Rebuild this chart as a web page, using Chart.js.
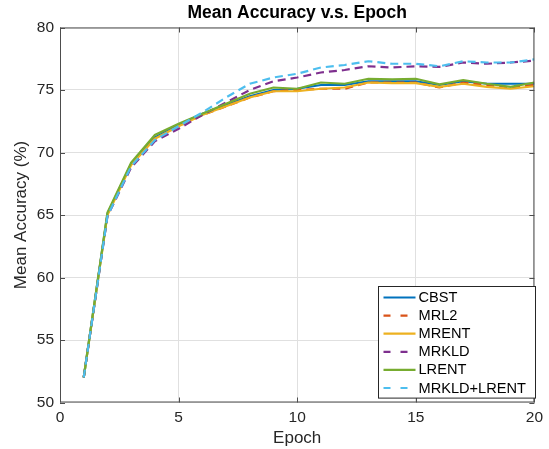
<!DOCTYPE html>
<html>
<head>
<meta charset="utf-8">
<script src="https://cdn.jsdelivr.net/npm/chart.js@4.4.0/dist/chart.umd.min.js"></script>
<style>
  html, body { margin: 0; padding: 0; background: #fff; }
</style>
</head>
<body>
<canvas id="accChart" width="549" height="449"></canvas>
<script>
const epochs = [1, 2, 3, 4, 5, 6, 7, 8, 9, 10, 11, 12, 13, 14, 15, 16, 17, 18, 19, 20];

const cbst       = [52.0, 65.1, 69.1, 71.2, 72.2, 73.1, 73.8, 74.5, 75.0, 75.1, 75.4, 75.4, 75.7, 75.7, 75.7, 75.4, 75.7, 75.5, 75.5, 75.5];
const mrl2       = [52.0, 65.0, 69.0, 71.1, 72.1, 73.0, 73.7, 74.4, 74.9, 75.0, 75.1, 75.1, 75.6, 75.6, 75.6, 75.2, 75.6, 75.4, 75.2, 75.4];
const mrent      = [52.0, 65.0, 69.0, 71.1, 72.1, 73.0, 73.7, 74.4, 74.9, 74.9, 75.1, 75.2, 75.6, 75.55, 75.55, 75.25, 75.5, 75.25, 75.1, 75.3];
const mrkld      = [52.0, 64.9, 68.8, 70.9, 71.9, 73.0, 74.0, 75.0, 75.7, 76.0, 76.4, 76.6, 76.9, 76.8, 76.9, 76.85, 77.2, 77.1, 77.2, 77.35];
const lrent      = [52.0, 65.2, 69.2, 71.4, 72.3, 73.1, 73.9, 74.7, 75.2, 75.1, 75.6, 75.5, 75.9, 75.85, 75.9, 75.45, 75.8, 75.5, 75.25, 75.6];
const mrkldLrent = [52.0, 64.9, 68.9, 71.0, 72.1, 73.2, 74.4, 75.5, 76.0, 76.3, 76.8, 77.0, 77.3, 77.1, 77.1, 76.9, 77.3, 77.2, 77.2, 77.45];

const seriesNames = ['CBST', 'MRL2', 'MRENT', 'MRKLD', 'LRENT', 'MRKLD+LRENT'];
const seriesData = [cbst, mrl2, mrent, mrkld, lrent, mrkldLrent];
const seriesColors = ['#0072BD', '#D95319', '#EDB120', '#7E2F8E', '#77AC30', '#4DBEEE'];
const seriesDashed = [false, true, false, true, false, true];

const xTicks = [0, 5, 10, 15, 20];
const yTicks = [50, 55, 60, 65, 70, 75, 80];

const FONT = 'Liberation Sans, Arial, Helvetica, sans-serif';
const TEXT = '#262626';
const AXIS = '#4d4d4d';

const datasets = seriesNames.map((name, i) => ({
    label: name,
    data: epochs.map((e, j) => ({ x: e, y: seriesData[i][j] })),
    borderColor: seriesColors[i],
    backgroundColor: seriesColors[i],
    borderWidth: 2.2,
    borderDash: seriesDashed[i] ? [8, 5] : [],
    pointRadius: 0,
    tension: 0,
    fill: false,
    order: seriesNames.length - 1 - i
}));

// box, inside ticks and legend (matlab look)
const matlabAxes = {
    id: 'matlabAxes',
    afterDatasetsDraw(chart) {
        const ctx = chart.ctx;
        const { left, right, top, bottom } = chart.chartArea;
        const xs = chart.scales.x, ys = chart.scales.y;
        ctx.save();
        ctx.strokeStyle = AXIS;
        ctx.lineWidth = 1;
        ctx.strokeRect(left + 0.5, top + 0.5, right - left - 1, bottom - top - 1);
        const tl = 5;
        ctx.beginPath();
        xTicks.forEach(v => {
            const px = Math.round(xs.getPixelForValue(v)) + 0.5;
            ctx.moveTo(px, bottom); ctx.lineTo(px, bottom - tl);
            ctx.moveTo(px, top); ctx.lineTo(px, top + tl);
        });
        yTicks.forEach(v => {
            const py = Math.round(ys.getPixelForValue(v)) + 0.5;
            ctx.moveTo(left, py); ctx.lineTo(left + tl, py);
            ctx.moveTo(right, py); ctx.lineTo(right - tl, py);
        });
        ctx.stroke();

        // legend
        const lx = 378.5, lw = 157, ly = top + (286.5 - 27.5), rowH = 18.1;
        const lh = rowH * seriesNames.length + 3;
        ctx.fillStyle = '#fff';
        ctx.fillRect(lx, ly, lw, lh);
        ctx.strokeStyle = TEXT;
        ctx.strokeRect(lx, ly, lw, lh);
        ctx.font = '14.6px ' + FONT;
        ctx.textBaseline = 'middle';
        ctx.textAlign = 'left';
        chart.data.datasets.forEach((ds, i) => {
            const cy = ly + 11 + i * rowH;
            ctx.strokeStyle = ds.borderColor;
            ctx.lineWidth = 2.2;
            ctx.setLineDash(ds.borderDash.length ? [7, 10] : []);
            ctx.beginPath();
            ctx.moveTo(lx + 5, cy); ctx.lineTo(lx + 37, cy);
            ctx.stroke();
            ctx.setLineDash([]);
            ctx.fillStyle = '#000';
            ctx.fillText(ds.label, lx + 40, cy + 0.5);
        });
        ctx.restore();
    }
};

const ctx = document.getElementById('accChart').getContext('2d');
const chart = new Chart(ctx, {
    type: 'line',
    data: { datasets },
    options: {
        responsive: false,
        animation: false,
        layout: { padding: { top: 0, right: 14, bottom: 0, left: 0 } },
        plugins: {
            legend: { display: false },
            tooltip: { enabled: false },
            title: {
                display: true,
                text: 'Mean Accuracy v.s. Epoch',
                fullSize: false,
                color: '#000',
                font: { family: FONT, size: 17.5, weight: 'bold' },
                padding: { top: 2.5, bottom: 4 }
            }
        },
        scales: {
            x: {
                type: 'linear',
                min: 0, max: 20,
                afterBuildTicks: s => { s.ticks = xTicks.map(v => ({ value: v })); },
                ticks: { color: TEXT, font: { family: FONT, size: 15.5 }, padding: 6, maxRotation: 0 },
                grid: { color: '#e0e0e0', drawTicks: false },
                border: { display: false },
                title: { display: true, text: 'Epoch', color: TEXT, font: { family: FONT, size: 17 }, padding: { top: 0, bottom: 0 } },
                afterFit: s => { s.height = 46.5; }
            },
            y: {
                min: 50, max: 80,
                afterBuildTicks: s => { s.ticks = yTicks.map(v => ({ value: v })); },
                ticks: { color: TEXT, font: { family: FONT, size: 15.5 }, padding: 6 },
                grid: { color: '#e0e0e0', drawTicks: false },
                border: { display: false },
                title: { display: true, text: 'Mean Accuracy (%)', color: TEXT, font: { family: FONT, size: 17 }, padding: { top: 10.8, bottom: 0 } },
                afterFit: s => { s.width = 60; }
            }
        }
    },
    plugins: [matlabAxes]
});
</script>
</body>
</html>
